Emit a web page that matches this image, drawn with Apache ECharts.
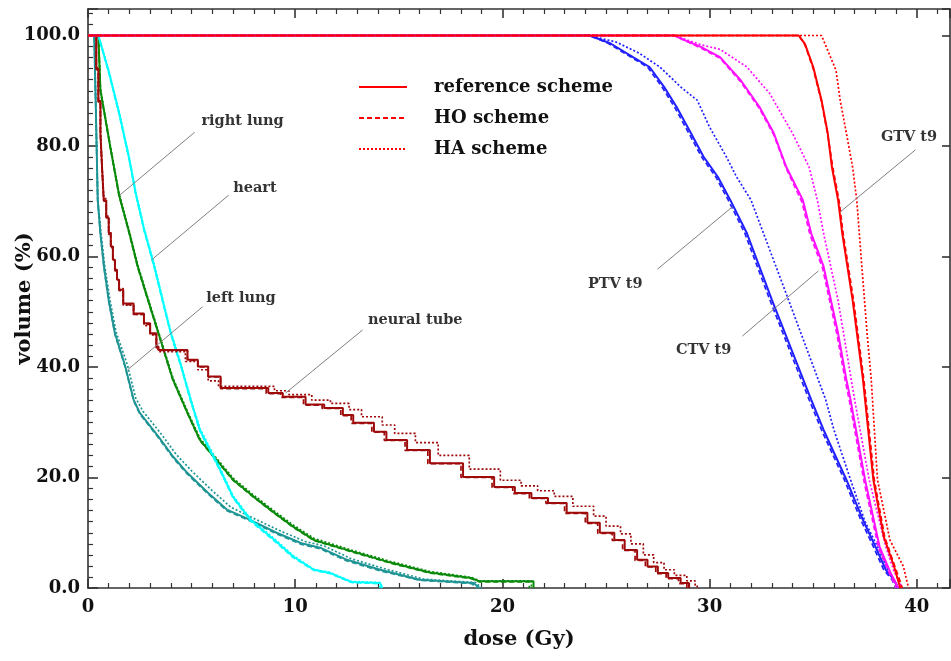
<!DOCTYPE html>
<html><head><meta charset="utf-8">
<script src="https://cdn.jsdelivr.net/npm/echarts@6/dist/echarts.min.js"></script>
<style>html,body{margin:0;padding:0;background:#fff}#c{width:951px;height:661px}</style>
</head><body><div id="c"></div>
<script>
// ---------- data (dose Gy, volume %) ----------
const schemes = ['reference scheme', 'HO scheme', 'HA scheme'];

const rightLungRef = [[0,100],[0.5,100],[0.6,90.1],[1.1,79.3],[1.5,71.1],[2.0,64.2],[2.4,58.2],[2.9,52.1],[3.4,46.1],[3.9,40.1],[4.1,37.7],[4.8,31.7],[5.4,26.8],[6.2,23.2],[7.0,19.6],[8.0,16.5],[9.0,13.6],[9.9,11.1],[10.9,8.7],[12.5,6.9],[14.6,4.6],[16.5,2.8],[18.5,1.8],[18.9,1.2],[21.5,1.2],[21.5,0]];
const rightLungHO  = [[0,100],[0.5,100],[0.6,90.0],[1.1,79.2],[1.5,71.0],[2.0,64.0],[2.4,58.0],[2.9,52.0],[3.4,46.0],[3.9,40.0],[4.1,37.6],[4.8,31.6],[5.4,26.7],[6.2,23.1],[7.0,19.5],[8.0,16.4],[9.0,13.5],[9.9,11.0],[10.9,8.6],[12.5,6.8],[14.6,4.5],[16.5,2.7],[18.5,1.7],[18.9,1.1],[21.3,1.1],[21.3,0]];
const rightLungHA  = [[0,100],[0.5,100],[0.6,90.3],[1.1,79.6],[1.5,71.4],[2.0,64.5],[2.4,58.5],[2.9,52.4],[3.4,46.4],[3.9,40.4],[4.1,38.0],[4.8,32.0],[5.4,27.1],[6.2,23.5],[7.0,19.9],[8.0,16.8],[9.0,13.9],[9.9,11.4],[10.9,9.0],[12.5,7.1],[14.6,4.8],[16.5,3.0],[18.5,1.9],[18.9,1.3],[21.4,1.3],[21.4,0]];

const heartRef = [[0,100],[0.5,100],[1.0,93.5],[1.5,86.0],[2.0,77.5],[2.3,71.5],[2.7,65.0],[3.2,58.2],[3.6,52.1],[4.0,46.1],[4.5,40.1],[4.95,34.1],[5.4,28.6],[6.3,22.0],[7.0,16.5],[7.85,12.3],[9.0,8.7],[9.9,5.7],[10.9,3.3],[11.7,2.7],[12.7,1.1],[14.1,0.9],[14.2,0]];
const heartHO  = [[0,100],[0.5,100],[1.0,93.3],[1.5,85.8],[2.0,77.3],[2.3,71.3],[2.7,64.8],[3.2,58.0],[3.6,51.9],[4.0,45.9],[4.5,39.9],[4.95,33.9],[5.4,28.4],[6.3,21.8],[7.0,16.3],[7.85,12.1],[9.0,8.5],[9.9,5.5],[10.9,3.2],[11.7,2.6],[12.7,1.0],[14.0,0.8],[14.1,0]];
const heartHA  = [[0,100],[0.5,100],[1.0,93.8],[1.5,86.3],[2.0,77.8],[2.3,71.8],[2.7,65.3],[3.2,58.5],[3.6,52.4],[4.0,46.4],[4.5,40.4],[4.95,34.4],[5.4,28.9],[6.3,22.3],[7.0,16.7],[7.85,12.5],[9.0,8.9],[9.9,5.9],[10.9,3.4],[11.7,2.8],[12.7,1.2],[14.1,1.0],[14.2,0]];

const leftLungRef = [[0,100],[0.3,100],[0.37,88.3],[0.47,70.2],[0.6,64.2],[0.77,58.2],[1.0,52.1],[1.3,46.1],[1.8,40.1],[2.2,34.1],[2.5,31.7],[3.4,27.4],[4.1,23.8],[4.8,20.8],[5.8,17.2],[6.7,14.2],[7.85,12.3],[9.1,10.0],[10.3,8.1],[11.2,7.3],[12.5,5.1],[14.1,3.3],[16.0,1.5],[18.6,0.9],[18.9,0]];
const leftLungHO  = [[0,100],[0.3,100],[0.37,88.1],[0.47,70.0],[0.6,64.0],[0.77,58.0],[1.0,51.9],[1.3,45.9],[1.8,39.9],[2.2,33.9],[2.5,31.5],[3.4,27.2],[4.1,23.6],[4.8,20.6],[5.8,17.0],[6.7,14.0],[7.85,12.1],[9.1,9.8],[10.3,7.9],[11.2,7.1],[12.5,4.9],[14.1,3.1],[16.0,1.4],[18.5,0.8],[18.8,0]];
const leftLungHA  = [[0,100],[0.3,100],[0.37,88.5],[0.47,70.5],[0.62,64.5],[0.8,58.5],[1.05,52.4],[1.35,46.4],[1.9,40.4],[2.3,34.4],[2.65,32.0],[3.55,27.8],[4.25,24.2],[5.0,21.2],[6.0,17.6],[6.9,14.6],[8.0,12.6],[9.3,10.3],[10.5,8.4],[11.4,7.6],[12.7,5.3],[14.3,3.5],[16.2,1.6],[18.7,1.0],[19.0,0]];

const neuralRef = [[0,100],[0.3,100],[0.4,94],[0.5,88],[0.6,82.3],[0.68,76],[0.76,70.2],[0.88,67],[1.0,64.2],[1.1,61.8],[1.2,59.4],[1.3,57.6],[1.4,55.8],[1.5,54.0],[1.7,51.5],[2.2,49.7],[2.7,47.9],[3.0,46.1],[3.3,43.7],[3.4,43.1],[4.6,43.1],[4.8,41.3],[5.3,40.1],[5.8,38.3],[6.4,36.2],[8.5,36.2],[8.7,35.3],[9.4,34.6],[10.5,33.2],[11.4,32.6],[12.3,31.3],[12.8,29.9],[13.8,28.3],[14.4,26.8],[15.4,25.0],[16.5,22.6],[18.1,20.1],[19.6,18.3],[20.6,17.2],[21.4,16.3],[22.2,15.4],[23.1,13.6],[24.1,11.8],[24.7,10.0],[25.4,8.7],[25.9,6.9],[26.5,5.1],[27.0,3.9],[27.5,2.7],[28.0,1.8],[28.6,0.9],[29.0,0]];
const neuralHO  = [[0,100],[0.3,100],[0.4,93.8],[0.5,87.8],[0.6,82.0],[0.68,75.8],[0.76,70.0],[0.88,66.8],[1.0,64.0],[1.1,61.6],[1.2,59.2],[1.3,57.4],[1.4,55.6],[1.5,53.8],[1.7,51.3],[2.2,49.5],[2.7,47.7],[3.0,45.9],[3.3,43.5],[3.4,43.0],[4.6,43.0],[4.8,41.2],[5.3,40.0],[5.8,38.2],[6.4,36.1],[8.4,36.1],[8.6,35.2],[9.3,34.5],[10.4,33.1],[11.3,32.5],[12.2,31.2],[12.7,29.8],[13.7,28.2],[14.3,26.7],[15.3,24.9],[16.4,22.5],[18.0,20.0],[19.5,18.2],[20.5,17.1],[21.3,16.2],[22.1,15.3],[23.0,13.5],[24.0,11.7],[24.6,9.9],[25.3,8.6],[25.8,6.8],[26.4,5.0],[26.9,3.8],[27.4,2.6],[27.9,1.7],[28.5,0.8],[28.9,0]];
const neuralHA  = [[0,100],[0.3,100],[0.4,94.2],[0.5,88.2],[0.6,82.5],[0.68,76.2],[0.76,70.5],[0.88,67.3],[1.0,64.5],[1.1,62.0],[1.2,59.6],[1.3,57.8],[1.4,56.0],[1.5,54.2],[1.7,51.2],[2.2,49.5],[2.7,47.5],[3.0,45.8],[3.3,43.2],[3.4,42.8],[4.5,42.8],[4.7,41.0],[5.3,39.5],[5.8,37.5],[6.3,36.5],[8.5,36.5],[9.0,35.7],[9.7,35.0],[10.8,34.0],[11.7,33.4],[12.6,32.3],[13.2,31.0],[14.2,29.5],[14.8,28.0],[15.8,26.3],[16.9,24.0],[18.4,21.5],[19.9,19.5],[20.9,18.5],[21.7,17.6],[22.5,16.6],[23.4,14.8],[24.4,13.0],[25.0,11.2],[25.7,9.8],[26.2,8.0],[26.8,6.0],[27.3,4.6],[27.8,3.3],[28.3,2.3],[28.9,1.3],[29.3,0.5],[29.4,0]];

const ptvRef = [[0,100],[24.2,100],[25.2,98.6],[26.3,96.1],[27.1,94.3],[27.8,90.7],[28.4,87.1],[29.1,82.3],[29.7,78.1],[30.4,74.4],[31.0,70.2],[31.8,64.2],[33.0,52.2],[34.9,34.1],[35.5,28.6],[36.6,19.6],[37.4,12.3],[38.0,7.5],[38.5,3.3],[38.9,1.5],[39.1,0]];
const ptvHO  = [[0,100],[24.2,100],[25.1,98.6],[26.2,96.1],[27.0,94.3],[27.7,90.7],[28.3,87.1],[29.0,82.3],[29.6,78.1],[30.3,74.4],[30.9,70.2],[31.7,64.2],[32.9,52.2],[34.8,34.1],[35.4,28.6],[36.5,19.6],[37.3,12.3],[37.9,7.5],[38.4,3.3],[38.8,1.5],[39.0,0]];
const ptvHA  = [[0,100],[24.2,100],[25.5,98.8],[26.6,96.8],[27.6,94.3],[28.6,90.7],[29.4,88.3],[30.0,83.4],[30.8,78.1],[31.3,74.4],[32.0,70.2],[32.6,64.2],[33.8,52.2],[35.6,34.1],[36.0,28.6],[36.8,19.6],[37.5,12.0],[38.1,7.5],[38.6,3.3],[39.1,0]];

const ctvRef = [[0,100],[28.3,100],[28.9,99.0],[29.6,97.9],[30.5,96.1],[31.5,91.9],[32.4,87.1],[33.1,82.3],[33.7,76.2],[34.5,70.2],[34.9,64.2],[35.5,58.2],[36.2,46.1],[36.6,37.7],[36.8,34.1],[37.5,19.6],[38.2,7.5],[38.7,3.0],[39.1,0]];
const ctvHO  = [[0,100],[28.3,100],[28.9,98.9],[29.6,97.7],[30.5,95.9],[31.5,91.6],[32.4,86.8],[33.1,82.0],[33.7,75.9],[34.45,69.9],[34.85,63.9],[35.45,57.9],[36.15,45.8],[36.55,37.4],[36.75,33.8],[37.45,19.3],[38.15,7.3],[38.65,2.9],[39.0,0]];
const ctvHA  = [[0,100],[28.3,100],[29.6,98.3],[30.5,97.5],[31.8,94.3],[32.9,89.5],[34.0,82.3],[34.8,76.2],[35.2,70.2],[35.5,64.2],[36.2,52.0],[37.0,34.0],[37.7,19.6],[38.5,7.5],[38.9,3.0],[39.3,0]];

const gtvRef = [[0,100],[34.3,100],[34.6,98.5],[35.0,94.3],[35.4,88.3],[35.7,82.3],[35.9,76.2],[36.2,70.2],[36.4,64.2],[36.9,52.1],[37.4,37.7],[37.9,19.6],[38.4,9.3],[38.9,3.9],[39.2,0]];
const gtvHO  = [[0,100],[34.3,100],[34.6,98.3],[35.0,94.0],[35.4,88.0],[35.7,82.0],[35.95,76.0],[36.25,70.0],[36.45,64.0],[36.95,52.0],[37.45,37.5],[37.95,19.5],[38.45,9.2],[38.95,3.8],[39.3,0]];
const gtvHA  = [[0,100],[35.4,100],[35.7,97.3],[36.1,93.7],[36.3,88.3],[36.6,82.3],[36.9,76.2],[37.1,70.2],[37.35,58.0],[37.6,46.0],[37.8,37.7],[38.1,19.6],[38.7,8.7],[39.35,3.9],[39.6,0]];

const xTickValues = [0, 10, 20, 30, 40];
const yTickValues = [0, 20, 40, 60, 80, 100];

// annotation labels: text, label anchor [dose, volume], leader line from / to
const annoText  = ['right lung', 'heart', 'left lung', 'neural tube', 'PTV t9', 'CTV t9', 'GTV t9'];
const annoAt    = [[5.45,84.5],[6.98,72.4],[5.68,52.5],[13.49,48.5],[24.1,54.9],[28.35,43.1],[38.24,81.6]];
const annoFrom  = [[5.15,82.5],[6.79,71.1],[5.53,50.9],[13.25,46.7],[27.48,57.7],[31.58,45.6],[39.93,79.3]];
const annoTo    = [[1.53,71.1],[3.07,59.4],[1.91,39.5],[9.54,35.3],[31.1,69.0],[35.25,57.4],[36.31,68.1]];

// ---------- styles ----------
const FONT = 'DejaVu Serif';
const structures = [
  { name: 'right lung',  color: '#0a8a0a', sets: [rightLungRef, rightLungHO, rightLungHA] },
  { name: 'left lung',   color: '#1f9494', sets: [leftLungRef, leftLungHO, leftLungHA] },
  { name: 'heart',       color: '#00ffff', sets: [heartRef, heartHO, heartHA] },
  { name: 'neural tube', color: '#9e0a0a', sets: [neuralRef, neuralHO, neuralHA], step: 'end' },
  { name: 'PTV t9',      color: '#2020ff', sets: [ptvRef, ptvHO, ptvHA] },
  { name: 'CTV t9',      color: '#ff10ff', sets: [ctvRef, ctvHO, ctvHA] },
  { name: 'GTV t9',      color: '#ff0000', sets: [gtvRef, gtvHO, gtvHA] }
];
const dashTypes = ['solid', [5, 3], [2, 2]];
const widths = [2, 1.7, 1.7];

const series = [];
structures.forEach(s => {
  s.sets.forEach((d, i) => {
    series.push({
      type: 'line', name: s.name + ' ' + schemes[i], data: d,
      showSymbol: false, symbol: 'none', step: s.step || false,
      lineStyle: { color: s.color, width: widths[i], type: dashTypes[i] },
      itemStyle: { color: s.color }, z: 3, silent: true
    });
  });
});
// legend dummy series
schemes.forEach((n, i) => {
  series.push({ type: 'line', name: n, data: [], symbol: 'none', showSymbol: false,
    lineStyle: { color: '#ff0000', width: 2, type: dashTypes[i] }, itemStyle: { color: '#ff0000' } });
});
// annotations
series.push({
  type: 'scatter', name: 'annotations', silent: true, z: 5,
  symbol: 'circle', symbolSize: 1, itemStyle: { color: 'rgba(0,0,0,0)' },
  data: annoText.map((t, i) => ({ name: t, value: annoAt[i] })),
  label: { show: true, position: 'right', distance: 0, formatter: p => p.name,
    fontFamily: FONT, fontWeight: 'bold', fontSize: 14.5, color: '#000' },
  labelLayout: { hideOverlap: false },
  markLine: { silent: true, symbol: ['none', 'none'], animation: false,
    lineStyle: { color: '#808080', width: 1, type: 'solid' }, label: { show: false },
    data: annoFrom.map((f, i) => [{ coord: f }, { coord: annoTo[i] }]) }
});

const axisLineStyle = { color: '#333', width: 1.6 };
const labelFont = { fontFamily: FONT, fontWeight: 'bold', fontSize: 18, color: '#111' };
const chart = echarts.init(document.getElementById('c'), null, { renderer: 'canvas' });
chart.setOption({
  animation: false,
  backgroundColor: '#fff',
  grid: { left: 88, right: 1, top: 9, bottom: 73, containLabel: false, outerBoundsMode: 'none' },
  legend: {
    data: schemes, orient: 'vertical', left: 358, top: 78, itemWidth: 48, itemHeight: 14, itemGap: 13,
    padding: 0, selectedMode: false,
    itemStyle: { opacity: 0 },
    textStyle: { fontFamily: FONT, fontWeight: 'bold', fontSize: 18, color: '#111', padding: [0, 0, 0, 22] }
  },
  xAxis: [{
    type: 'value', min: 0, max: 41.6, interval: 10, position: 'bottom',
    axisLine: { show: true, onZero: false, lineStyle: axisLineStyle },
    axisTick: { show: true, inside: true, length: 9, lineStyle: axisLineStyle },
    minorTick: { show: true, splitNumber: 10, length: 5, lineStyle: { color: '#333', width: 1.2 } },
    splitLine: { show: false },
    axisLabel: Object.assign({ showMaxLabel: false, margin: 10,
      formatter: v => xTickValues.includes(v) ? String(v) : '' }, labelFont),
    name: 'dose (Gy)', nameLocation: 'middle', nameGap: 41,
    nameTextStyle: { fontFamily: FONT, fontWeight: 'bold', fontSize: 21, color: '#111' }
  }, {
    type: 'value', min: 0, max: 41.6, interval: 10, position: 'top',
    axisLine: { show: true, onZero: false, lineStyle: axisLineStyle },
    axisTick: { show: true, inside: true, length: 9, lineStyle: axisLineStyle },
    minorTick: { show: true, splitNumber: 10, length: 5, lineStyle: { color: '#333', width: 1.2 } },
    splitLine: { show: false }, axisLabel: { show: false }
  }],
  yAxis: [{
    type: 'value', min: 0, max: 104.8, interval: 20, position: 'left',
    axisLine: { show: true, onZero: false, lineStyle: axisLineStyle },
    axisTick: { show: true, inside: true, length: 10, lineStyle: axisLineStyle },
    minorTick: { show: true, splitNumber: 10, length: 5, lineStyle: { color: '#333', width: 1.2 } },
    splitLine: { show: false },
    axisLabel: Object.assign({ showMaxLabel: false, margin: 8,
      formatter: v => yTickValues.includes(v) ? v.toFixed(1) : '' }, labelFont),
    name: 'volume (%)', nameLocation: 'middle', nameGap: 53, nameRotate: 90, nameMoveOverlap: false,
    nameTextStyle: { fontFamily: FONT, fontWeight: 'bold', fontSize: 21, color: '#111' }
  }, {
    type: 'value', min: 0, max: 104.8, interval: 20, position: 'right',
    axisLine: { show: true, onZero: false, lineStyle: axisLineStyle },
    axisTick: { show: true, inside: true, length: 8, lineStyle: axisLineStyle },
    minorTick: { show: false },
    splitLine: { show: false }, axisLabel: { show: false }
  }],
  series: series
});
</script></body></html>
